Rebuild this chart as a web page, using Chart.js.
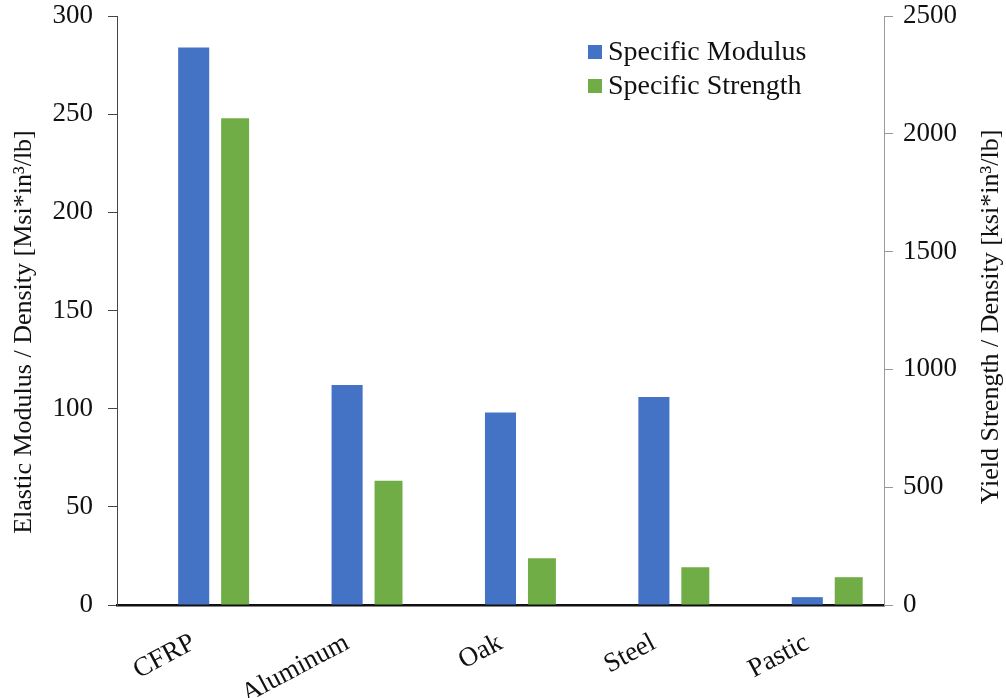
<!DOCTYPE html>
<html>
<head>
<meta charset="utf-8">
<script src="https://cdn.jsdelivr.net/npm/chart.js@4/dist/chart.umd.min.js"></script>
<style>
	html, body { margin: 0; padding: 0; background: #fff; }
	#wrap { width: 1006px; height: 698px; }
</style>
</head>
<body>
<div id="wrap"><canvas id="chart"></canvas></div>
<script>
// values
const materials = ['CFRP', 'Aluminum', 'Oak', 'Steel', 'Pastic'];
const specificModulus = [284, 112, 98, 106, 4];     // Msi*in3/lb, left axis
const specificStrength = [2066, 527, 198, 160, 118]; // ksi*in3/lb, right axis
const leftTicks = [0, 50, 100, 150, 200, 250, 300];
const rightTicks = [0, 500, 1000, 1500, 2000, 2500];

const leftTitle = 'Elastic Modulus / Density [Msi*in\u00B3/lb]';
const rightTitle = 'Yield Strength / Density [ksi*in\u00B3/lb]';

const serif = "'Liberation Serif', 'Times New Roman', serif";
const blue = '#4472C4';
const green = '#70AD47';

// axis titles drawn rotated at fixed spots, like the original
const axisTitles = {
	id: 'axisTitles',
	afterDraw(chart) {
		let ctx = chart.ctx;
		ctx.save();
		ctx.font = '26px ' + serif;
		ctx.fillStyle = '#111';
		ctx.textAlign = 'center';
		ctx.textBaseline = 'middle';

		ctx.save();
		ctx.translate(24, 332);
		ctx.rotate(-Math.PI / 2);
		ctx.fillText(leftTitle, 0, 0);
		ctx.restore();

		ctx.save();
		ctx.translate(991, 317);
		ctx.rotate(-Math.PI / 2);
		ctx.fillText(rightTitle, 0, 0);
		ctx.restore();

		ctx.restore();
	}
};

// legend inside the plot, top right
const innerLegend = {
	id: 'innerLegend',
	afterDraw(chart) {
		let ctx = chart.ctx;
		let items = chart.data.datasets.filter(ds => ds.label);
		ctx.save();
		ctx.font = '28px ' + serif;
		ctx.textBaseline = 'middle';
		ctx.textAlign = 'left';
		items.forEach((ds, i) => {
			let y = 52 + i * 34;
			ctx.fillStyle = ds.backgroundColor;
			ctx.fillRect(588, y - 7, 14, 14);
			ctx.fillStyle = '#111';
			ctx.fillText(ds.label, 608, y + 1);
		});
		ctx.restore();
	}
};

// fixed sizes for the y axes so the plot area lands where it is in the original
function fitY(width) {
	return function(scale) {
		scale.width = width;
		scale.paddingTop = 0;
		scale.paddingBottom = 0;
	};
}

let ctx = document.getElementById('chart').getContext('2d');

new Chart(ctx, {
	type: 'bar',
	data: {
		labels: materials,
		datasets: [
			{
				// empty slot so the blue bar sits on the category centre
				label: '',
				data: materials.map(() => null),
				yAxisID: 'y',
				categoryPercentage: 0.81,
				barPercentage: 0.75
			},
			{
				label: 'Specific Modulus',
				data: specificModulus,
				backgroundColor: blue,
				yAxisID: 'y',
				categoryPercentage: 0.81,
				barPercentage: 0.75
			},
			{
				label: 'Specific Strength',
				data: specificStrength,
				backgroundColor: green,
				yAxisID: 'y1',
				categoryPercentage: 0.81,
				barPercentage: 0.675
			}
		]
	},
	options: {
		responsive: true,
		maintainAspectRatio: false,
		animation: false,
		layout: {
			padding: { top: 16, left: 0, right: 0, bottom: 0 }
		},
		plugins: {
			legend: { display: false },
			tooltip: { enabled: false }
		},
		scales: {
			x: {
				grid: { display: false },
				border: { display: true, color: '#111', width: 2.5 },
				ticks: {
					color: '#111',
					font: { family: serif, size: 27 },
					minRotation: 28,
					maxRotation: 28,
					padding: 14
				},
				afterFit: function(scale) { scale.height = 93; }
			},
			y: {
				position: 'left',
				min: 0,
				max: 300,
				afterBuildTicks: function(scale) {
					scale.ticks = leftTicks.map(v => ({ value: v }));
				},
				grid: {
					drawOnChartArea: false,
					drawTicks: true,
					tickLength: 9,
					color: '#444'
				},
				border: { display: true, color: '#444', width: 1 },
				ticks: {
					color: '#111',
					font: { family: serif, size: 27 },
					padding: 15,
					callback: v => String(v)
				},
				afterFit: fitY(117)
			},
			y1: {
				position: 'right',
				min: 0,
				max: 2500,
				afterBuildTicks: function(scale) {
					scale.ticks = rightTicks.map(v => ({ value: v }));
				},
				grid: {
					drawOnChartArea: false,
					drawTicks: true,
					tickLength: 9,
					color: '#999'
				},
				border: { display: true, color: '#999', width: 1 },
				ticks: {
					color: '#111',
					font: { family: serif, size: 27 },
					padding: 10,
					callback: v => String(v)
				},
				afterFit: fitY(122)
			}
		}
	},
	plugins: [axisTitles, innerLegend]
});
</script>
</body>
</html>
